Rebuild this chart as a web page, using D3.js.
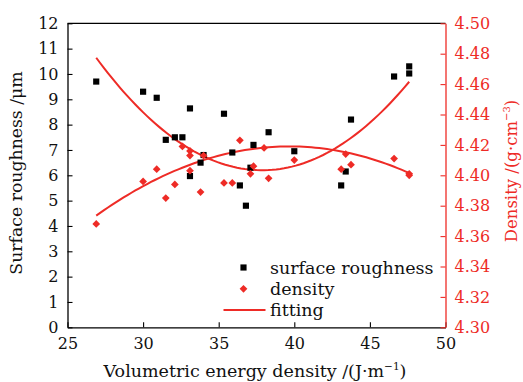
<!DOCTYPE html>
<html>
<head>
<meta charset="utf-8">
<script src="https://cdn.jsdelivr.net/npm/d3@7"></script>
<style>
html,body{margin:0;padding:0;background:#fff;}
svg{display:block;}
text{font-family:"DejaVu Serif",serif;}
</style>
</head>
<body>
<svg id="chart" width="523" height="382"></svg>
<script>
// ---- data ----
const roughX = [26.9, 30.0, 30.9, 31.5, 32.1, 32.6, 33.1, 33.1, 33.8, 34.0, 35.35, 35.9, 36.4, 36.8, 37.1, 37.3, 38.3, 40.0, 43.1, 43.4, 43.75, 46.6, 47.6, 47.6];
const roughY = [9.7, 9.3, 9.06, 7.4, 7.5, 7.5, 8.64, 5.97, 6.5, 6.8, 8.43, 6.9, 5.6, 4.8, 6.3, 7.2, 7.7, 6.95, 5.6, 6.15, 8.2, 9.9, 10.3, 10.02];
const densX = [26.9, 30.0, 30.9, 31.5, 32.1, 32.6, 33.1, 33.1, 33.1, 33.8, 34.0, 35.35, 35.9, 36.4, 37.1, 37.3, 38.0, 38.3, 40.0, 43.1, 43.4, 43.75, 46.6, 47.6, 47.6];
const densY = [4.368, 4.396, 4.404, 4.385, 4.394, 4.419, 4.416, 4.413, 4.403, 4.389, 4.413, 4.395, 4.395, 4.423, 4.401, 4.406, 4.418, 4.398, 4.410, 4.404, 4.414, 4.407, 4.411, 4.401, 4.400];
// quadratic fits y = a*(x-h)^2 + k : [a, h, k]
const roughFit = [0.0369, 37.87, 6.2];
const densFit = [-0.000279, 39.68, 4.419];
const fitRange = [26.9, 47.6];
const xTicks = [25, 30, 35, 40, 45, 50];
const yTicks = [0,1,2,3,4,5,6,7,8,9,10,11,12];
const y2Ticks = [4.30,4.32,4.34,4.36,4.38,4.40,4.42,4.44,4.46,4.48,4.50];
const legendLabels = ["surface roughness", "density", "fitting"];

// ---- layout ----
const RED = "#ee2b26";
const L = 67.5, R = 445.5, T = 23.3, B = 327.3;
const svg = d3.select("#chart");
const x = d3.scaleLinear().domain([25, 50]).range([L, R]);
const y = d3.scaleLinear().domain([0, 12]).range([B, T]);
const y2 = d3.scaleLinear().domain([4.30, 4.50]).range([B, T]);

// frame top
svg.append("line").attr("x1", L).attr("x2", R).attr("y1", T).attr("y2", T)
  .attr("stroke", "#000").attr("stroke-width", 1.3);

// axes
const fs = 16;
const gx = svg.append("g").attr("transform", `translate(0,${B})`)
  .call(d3.axisBottom(x).tickValues(xTicks).tickSizeInner(-5).tickSizeOuter(0).tickPadding(10).tickFormat(d3.format("d")));
const gy = svg.append("g").attr("transform", `translate(${L},0)`)
  .call(d3.axisLeft(y).tickValues(yTicks).tickSizeInner(-5).tickSizeOuter(0).tickPadding(9).tickFormat(d3.format("d")));
const gy2 = svg.append("g").attr("transform", `translate(${R},0)`)
  .call(d3.axisRight(y2).tickValues(y2Ticks).tickSizeInner(-5).tickSizeOuter(0).tickPadding(9).tickFormat(d3.format(".2f")));
[gx, gy].forEach(g => {
  g.select(".domain").attr("stroke", "#000").attr("stroke-width", 1.3);
  g.selectAll(".tick line").attr("stroke", "#000").attr("stroke-width", 1.1);
  g.selectAll("text").attr("font-family", "DejaVu Serif").attr("font-size", fs).attr("fill", "#111");
});
gy2.select(".domain").attr("stroke", RED).attr("stroke-width", 1.3);
gy2.selectAll(".tick line").attr("stroke", RED).attr("stroke-width", 1.1);
gy2.selectAll("text").attr("font-family", "DejaVu Serif").attr("font-size", fs).attr("fill", RED);

// fit curves
function fitPts(c) {
  const n = 80, pts = [];
  for (let i = 0; i <= n; i++) {
    const xv = fitRange[0] + (fitRange[1] - fitRange[0]) * i / n;
    pts.push([xv, c[0] * (xv - c[1]) ** 2 + c[2]]);
  }
  return pts;
}
svg.append("path").datum(fitPts(roughFit))
  .attr("d", d3.line().x(d => x(d[0])).y(d => y(d[1])))
  .attr("fill", "none").attr("stroke", RED).attr("stroke-width", 2);
svg.append("path").datum(fitPts(densFit))
  .attr("d", d3.line().x(d => x(d[0])).y(d => y2(d[1])))
  .attr("fill", "none").attr("stroke", RED).attr("stroke-width", 2);

// markers
const sq = d3.symbol(d3.symbolSquare, 38)();
const dm = d3.symbol(d3.symbolSquare, 30)();
svg.append("g").selectAll("path").data(roughX.map((v, i) => [v, roughY[i]])).join("path")
  .attr("d", sq).attr("transform", d => `translate(${x(d[0])},${y(d[1])})`).attr("fill", "#000");
svg.append("g").selectAll("path").data(densX.map((v, i) => [v, densY[i]])).join("path")
  .attr("d", dm).attr("transform", d => `translate(${x(d[0])},${y2(d[1])}) rotate(45)`).attr("fill", RED);

// legend
const lg = svg.append("g");
const lx = 243.5, ly0 = 267.5, ldy = 21.3;
lg.append("path").attr("d", sq).attr("transform", `translate(${lx},${ly0})`).attr("fill", "#000");
lg.append("path").attr("d", dm).attr("transform", `translate(${lx},${ly0 + ldy}) rotate(45)`).attr("fill", RED);
lg.append("line").attr("x1", lx - 20).attr("x2", lx + 22).attr("y1", ly0 + 2 * ldy).attr("y2", ly0 + 2 * ldy)
  .attr("stroke", RED).attr("stroke-width", 2);
legendLabels.forEach((t, i) => {
  lg.append("text").attr("x", 270).attr("y", ly0 + i * ldy).attr("dy", "0.35em")
    .attr("font-size", 17.5).attr("fill", "#111").text(t);
});

// axis titles
const xt = svg.append("text").attr("x", 255).attr("y", 377).attr("text-anchor", "middle")
  .attr("font-size", 17.5).attr("fill", "#111");
xt.append("tspan").text("Volumetric energy density /(J·m");
xt.append("tspan").attr("font-size", 10.5).attr("dy", -7).text("−1");
xt.append("tspan").attr("dy", 7).text(")");

svg.append("text").attr("transform", `translate(22,173) rotate(-90)`).attr("text-anchor", "middle")
  .attr("font-size", 17.3).attr("fill", "#111").text("Surface roughness /μm");

const yt2 = svg.append("text").attr("transform", `translate(517,171) rotate(-90)`).attr("text-anchor", "middle")
  .attr("font-size", 16.5).attr("fill", RED);
yt2.append("tspan").text("Density /(g·cm");
yt2.append("tspan").attr("font-size", 10).attr("dy", -7).text("−3");
yt2.append("tspan").attr("dy", 7).text(")");
</script>
</body>
</html>
